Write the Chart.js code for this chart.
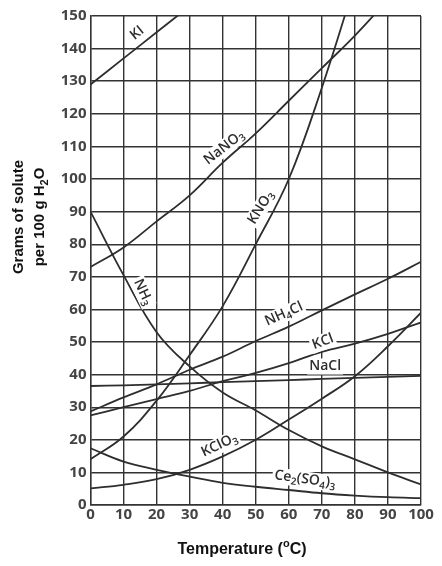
<!DOCTYPE html>
<html lang="en">
<head>
    <meta charset="UTF-8">
    <title>Solubility Curves</title>
    <script src="https://cdn.jsdelivr.net/npm/chart.js"></script>
    <style>
        body {
            margin: 0;
            padding: 0;
            background-color: #fff;
        }
        #chartBox {
            width: 442px;
            height: 566px;
        }
    </style>
</head>
<body>
    <div id="chartBox">
        <canvas id="solubilityChart" width="442" height="566"></canvas>
    </div>

    <script>
        // Temperatures (deg C) along the x axis
        const temps = [0, 10, 20, 30, 40, 50, 60, 70, 80, 90, 100];

        // Grams of solute per 100 g water
        const KI      = [129, 137, 145, 153, null, null, null, null, null, null, null];
        const NaNO3   = [73, 79, 87, 95, 105, 114, 124, 134, 144, 155, 166];
        const KNO3    = [14, 21, 32, 46, 61, 80, 100, 128, 160, null, null];
        const NH3     = [90, 70.5, 53, 42.5, 34.5, 29, 23, 18, 14, 10, 6.3];
        const NH4Cl   = [28.7, 33, 37, 41.5, 45.5, 50.3, 54.7, 59.7, 64.6, 69.4, 74.6];
        const KCl     = [27.5, 30, 32.5, 35, 38, 40.5, 43.5, 47, 49.5, 52.5, 56];
        const NaCl    = [36.5, 36.7, 37, 37.3, 37.7, 38, 38.3, 38.7, 39, 39.3, 39.6];
        const KClO3   = [5.1, 6.2, 7.9, 10.8, 14.9, 20, 26.2, 32.6, 39.5, 48.7, 59];
        const Ce2SO43 = [17.4, 13.3, 10.8, 8.7, 6.8, 5.6, 4.6, 3.6, 2.9, 2.4, 2.1];

        const xTicks = { min: 0, max: 100, step: 10 };
        const yTicks = { min: 0, max: 150, step: 10 };

        const seriesList = [KI, NaNO3, KNO3, NH3, NH4Cl, KCl, NaCl, KClO3, Ce2SO43];

        // Curve labels: text parts [string, isSubscript], anchor in data units, angle in degrees
        const curveLabels = [
            { parts: [['KI', 0]], x: 14.1, y: 144.8, angle: -39 },
            { parts: [['NaNO', 0], ['3', 1]], x: 40.4, y: 109.7, angle: -38 },
            { parts: [['KNO', 0], ['3', 1]], x: 51.5, y: 91.3, angle: -58 },
            { parts: [['NH', 0], ['3', 1]], x: 15.9, y: 65.3, angle: 65 },
            { parts: [['NH', 0], ['4', 1], ['Cl', 0]], x: 58.5, y: 58.6, angle: -24 },
            { parts: [['KCl', 0]], x: 70.3, y: 50.1, angle: -20 },
            { parts: [['NaCl', 0]], x: 71, y: 42.6, angle: 0 },
            { parts: [['KClO', 0], ['3', 1]], x: 39, y: 18.4, angle: -25 },
            { parts: [['Ce', 0], ['2', 1], ['(SO', 0], ['4', 1], [')', 0], ['3', 1]], x: 64.9, y: 7.9, angle: 8 }
        ];

        const inkColor = '#2e2e2e';
        const labelFont = 'Open Sans';

        function drawRich(ctx, parts, size, weight, bg) {
            const subSize = Math.round(size * 0.72);
            let widths = parts.map(p => {
                ctx.font = weight + ' ' + (p[1] ? subSize : size) + 'px "' + labelFont + '"';
                return ctx.measureText(p[0]).width;
            });
            const total = widths.reduce((a, b) => a + b, 0);
            if (bg) {
                ctx.fillStyle = '#fff';
                ctx.fillRect(-total / 2 - 2, -size * 0.55, total + 4, size * 1.15);
            }
            ctx.fillStyle = inkColor;
            ctx.textBaseline = 'middle';
            ctx.textAlign = 'left';
            let cx = -total / 2;
            parts.forEach((p, i) => {
                ctx.font = weight + ' ' + (p[1] ? subSize : size) + 'px "' + labelFont + '"';
                ctx.fillText(p[0], cx, p[1] ? size * 0.3 : 0);
                cx += widths[i];
            });
        }

        const labelPlugin = {
            id: 'curveLabels',
            afterDatasetsDraw(chart) {
                const ctx = chart.ctx;
                const xs = chart.scales.x;
                const ys = chart.scales.y;
                curveLabels.forEach(l => {
                    ctx.save();
                    ctx.translate(xs.getPixelForValue(l.x), ys.getPixelForValue(l.y));
                    ctx.rotate(l.angle * Math.PI / 180);
                    drawRich(ctx, l.parts, 14, '600', true);
                    ctx.restore();
                });
            }
        };

        const titlePlugin = {
            id: 'axisTitles',
            afterDraw(chart) {
                const ctx = chart.ctx;
                ctx.save();
                ctx.fillStyle = '#111';
                ctx.textAlign = 'center';
                ctx.textBaseline = 'middle';
                ctx.font = 'bold 15px "Liberation Sans"';

                // y title, two lines, rotated
                ctx.save();
                ctx.translate(19, 217);
                ctx.rotate(-Math.PI / 2);
                ctx.fillText('Grams of solute', 0, 0);
                ctx.restore();

                ctx.save();
                ctx.translate(40, 217);
                ctx.rotate(-Math.PI / 2);
                const a = 'per 100 g H', b = '2', c = 'O';
                ctx.font = 'bold 15px "Liberation Sans"';
                const wa = ctx.measureText(a).width, wc = ctx.measureText(c).width;
                ctx.font = 'bold 11px "Liberation Sans"';
                const wb = ctx.measureText(b).width;
                let sx = -(wa + wb + wc) / 2;
                ctx.textAlign = 'left';
                ctx.font = 'bold 15px "Liberation Sans"';
                ctx.fillText(a, sx, 0);
                ctx.font = 'bold 11px "Liberation Sans"';
                ctx.fillText(b, sx + wa, 5);
                ctx.font = 'bold 15px "Liberation Sans"';
                ctx.fillText(c, sx + wa + wb, 0);
                ctx.restore();

                // x title with raised "o"
                ctx.textAlign = 'left';
                const t1 = 'Temperature (', t2 = 'o', t3 = 'C)';
                ctx.font = 'bold 16px "Liberation Sans"';
                const w1 = ctx.measureText(t1).width, w3 = ctx.measureText(t3).width;
                ctx.font = 'bold 11px "Liberation Sans"';
                const w2 = ctx.measureText(t2).width;
                let tx = 242 - (w1 + w2 + w3) / 2;
                ctx.font = 'bold 16px "Liberation Sans"';
                ctx.fillText(t1, tx, 550);
                ctx.font = 'bold 11px "Liberation Sans"';
                ctx.fillText(t2, tx + w1, 544);
                ctx.font = 'bold 16px "Liberation Sans"';
                ctx.fillText(t3, tx + w1 + w2, 550);
                ctx.restore();
            }
        };

        const datasets = seriesList.map(s => ({
            data: temps.map((t, i) => ({ x: t, y: s[i] })),
            borderColor: inkColor,
            borderWidth: 1.8,
            pointRadius: 0,
            fill: false,
            tension: 0.4,
            spanGaps: false
        }));

        const tickFont = { family: 'Open Sans', weight: 'bold', size: 15 };

        const ctx = document.getElementById('solubilityChart').getContext('2d');
        const solubilityChart = new Chart(ctx, {
            type: 'line',
            data: { datasets: datasets },
            plugins: [labelPlugin, titlePlugin],
            options: {
                responsive: false,
                animation: false,
                layout: { padding: { left: 0, top: 16, right: 21, bottom: 0 } },
                plugins: {
                    legend: { display: false },
                    tooltip: { enabled: false }
                },
                scales: {
                    x: {
                        type: 'linear',
                        min: xTicks.min,
                        max: xTicks.max,
                        ticks: { stepSize: xTicks.step, font: tickFont, color: '#444', padding: 1, maxRotation: 0 },
                        grid: { color: '#333', lineWidth: 1.4, drawTicks: false },
                        border: { color: '#333', width: 1.4 },
                        afterFit(scale) { scale.height = 61; }
                    },
                    y: {
                        min: yTicks.min,
                        max: yTicks.max,
                        ticks: { stepSize: yTicks.step, font: tickFont, color: '#444', padding: 4 },
                        grid: { color: '#333', lineWidth: 1.4, drawTicks: false },
                        border: { color: '#333', width: 1.4 },
                        afterFit(scale) { scale.width = 90.5; }
                    }
                }
            }
        });
    </script>
</body>
</html>
